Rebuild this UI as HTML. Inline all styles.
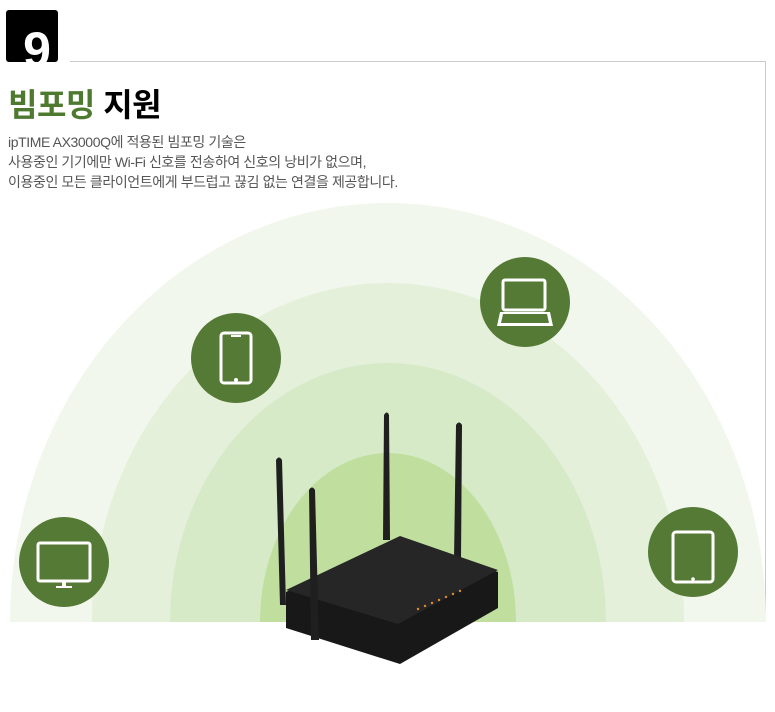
<!DOCTYPE html>
<html><head><meta charset="utf-8"><style>
html,body{margin:0;width:775px;height:712px;overflow:hidden}
body{background:#fff;position:relative;font-family:"Liberation Sans","Noto Sans CJK KR",sans-serif}
.num{position:absolute;left:6px;top:10px;width:52px;height:52px;background:#000;border-radius:3px;color:#fff;font:bold 50px "Liberation Sans",sans-serif;text-align:center;line-height:80px;overflow:hidden;text-indent:10px}
.t{position:absolute;left:8px;top:80px;font-size:32px;font-weight:bold;letter-spacing:-0.5px;white-space:nowrap}
.p{position:absolute;left:8px;top:132px;font-size:14px;line-height:20px;color:#555;letter-spacing:-0.4px;white-space:nowrap}
svg{position:absolute;left:0;top:0}
</style></head><body>
<svg width="775" height="712">
<line x1="70" y1="61.5" x2="765.5" y2="61.5" stroke="#ccc"/>
<line x1="765.5" y1="61" x2="765.5" y2="611" stroke="#ccc"/>
<defs><clipPath id="c"><rect x="0" y="0" width="775" height="622"/></clipPath></defs>
<g clip-path="url(#c)">
<ellipse cx="388" cy="622" rx="378" ry="419" fill="#f1f7ec"/>
<ellipse cx="388" cy="622" rx="296" ry="339" fill="#e4f0da"/>
<ellipse cx="388" cy="622" rx="218" ry="259" fill="#d6eac8"/>
<ellipse cx="388" cy="622" rx="128" ry="169" fill="#c0df9f"/>
</g>
<g fill="#557a36">
<circle cx="64" cy="562" r="45"/><circle cx="236" cy="358" r="45"/><circle cx="525" cy="302" r="45"/><circle cx="693" cy="552" r="45"/>
</g>
<g fill="none" stroke="#fff" stroke-width="3">
<rect x="38" y="543" width="52" height="38" rx="2"/>
<rect x="221" y="333" width="30" height="50" rx="3"/>
<rect x="503" y="280" width="42" height="30" rx="2"/>
<rect x="673" y="532" width="40" height="50" rx="3"/>
</g>
<g fill="#fff">
<rect x="62" y="582" width="4" height="5"/><rect x="56" y="586" width="16" height="2"/>
<rect x="231" y="335" width="10" height="2"/><circle cx="236" cy="380" r="2"/>
<path d="M500 312h50l3 14h-56z"/>
<circle cx="693" cy="579" r="1.8"/>
</g>
<path d="M503 314h44l2 9h-48z" fill="#557a36"/>
<g fill="#1f1f1f">
<path d="M276 460q3-5 6 0l4 145h-6z"/>
<path d="M384 415q3-5 5 0l1 125h-7z"/>
<path d="M456 425q3-5 6 0l-1 135h-7z"/>
<path d="M286 592L400 538L498 572L498 608L400 664L286 628Z" fill="#181818"/>
<path d="M286 590L400 536L498 570L398 624Z" fill="#262626"/>
<path d="M309 490q3-5 6 0l4 150h-8z"/>
</g>
<g fill="#e08a2a"><circle cx="418" cy="609" r="1.2"/><circle cx="425" cy="606" r="1.2"/><circle cx="432" cy="603" r="1.2"/><circle cx="439" cy="600" r="1.2"/><circle cx="446" cy="597" r="1.2"/><circle cx="453" cy="594" r="1.2"/><circle cx="460" cy="591" r="1.2"/></g>
</svg>
<div class="num">9</div>
<div class="t"><span style="color:#4e7a2f">빔포밍</span> 지원</div>
<div class="p">ipTIME AX3000Q에 적용된 빔포밍 기술은<br>사용중인 기기에만 Wi-Fi 신호를 전송하여 신호의 낭비가 없으며,<br>이용중인 모든 클라이언트에게 부드럽고 끊김 없는 연결을 제공합니다.</div>
</body></html>
